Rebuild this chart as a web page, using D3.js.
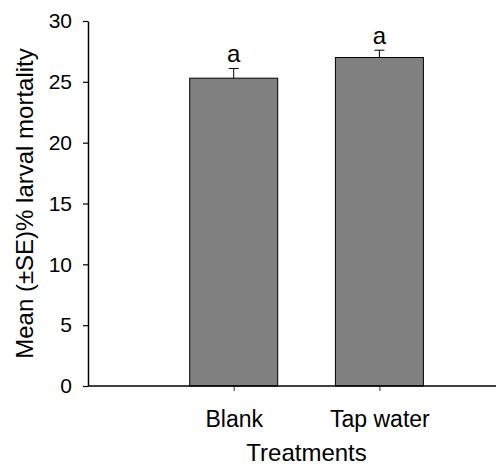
<!DOCTYPE html>
<html>
<head>
<meta charset="utf-8">
<script src="https://cdn.jsdelivr.net/npm/d3@7"></script>
<style>
  body { margin: 0; background: #fff; }
  text { font-family: "Liberation Sans", Arial, sans-serif; fill: #000; }
</style>
</head>
<body>
<div id="chart-area"></div>
<script>
// data
let treatments = ["Blank", "Tap water"];
let meanMortality = [25.3, 27.0];
let seMortality = [0.8, 0.6];
let letters = ["a", "a"];
let yTicks = [0, 5, 10, 15, 20, 25, 30];

let width = 496,
    height = 467;
let margin = {top: 21, bottom: 81, left: 88, right: 0};
let step = 145.7;
let barWidth = 88;

let svg = d3.select('#chart-area').append('svg')
    .attr('width', width)
    .attr('height', height);

let x = d3.scalePoint()
    .domain(treatments)
    .range([margin.left + step, margin.left + 2 * step]);

let y = d3.scaleLinear()
    .domain([0, 30])
    .range([height - margin.bottom, margin.top]);

// bars
svg.selectAll('rect.bar')
    .data(treatments)
    .enter()
    .append('rect')
    .attr('class', 'bar')
    .attr('x', d => x(d) - barWidth / 2)
    .attr('y', (d, i) => y(meanMortality[i]))
    .attr('width', barWidth)
    .attr('height', (d, i) => y(0) - y(meanMortality[i]))
    .attr('fill', '#808080')
    .attr('stroke', '#000')
    .attr('stroke-width', 1);

// error bars (upper only)
let err = svg.selectAll('g.err')
    .data(treatments)
    .enter()
    .append('g')
    .attr('class', 'err')
    .attr('stroke', '#000')
    .attr('stroke-width', 1);

err.append('line')
    .attr('x1', d => x(d))
    .attr('x2', d => x(d))
    .attr('y1', (d, i) => y(meanMortality[i]))
    .attr('y2', (d, i) => y(meanMortality[i] + seMortality[i]));

err.append('line')
    .attr('x1', d => x(d) - 5)
    .attr('x2', d => x(d) + 5)
    .attr('y1', (d, i) => y(meanMortality[i] + seMortality[i]))
    .attr('y2', (d, i) => y(meanMortality[i] + seMortality[i]));

// significance letters
svg.selectAll('text.letter')
    .data(treatments)
    .enter()
    .append('text')
    .attr('class', 'letter')
    .attr('x', d => x(d))
    .attr('y', (d, i) => y(meanMortality[i] + seMortality[i]) - 6.5)
    .attr('text-anchor', 'middle')
    .style('font-size', '24px')
    .text((d, i) => letters[i]);

// y axis
let yAxis = d3.axisLeft(y)
    .tickValues(yTicks)
    .tickSize(5)
    .tickSizeOuter(0)
    .tickPadding(11);

let gy = svg.append('g')
    .attr('transform', 'translate(' + margin.left + ',0)')
    .call(yAxis);
gy.select('.domain').attr('stroke-width', 1.5);
gy.selectAll('.tick line').attr('stroke-width', 1.2);
gy.selectAll('.tick text')
    .style('font-size', '21px')
    .style('font-family', '"Liberation Sans", Arial, sans-serif');

// x axis
let xAxis = d3.axisBottom(x)
    .tickSize(5)
    .tickSizeOuter(0)
    .tickPadding(20);

let gx = svg.append('g')
    .attr('transform', 'translate(0,' + y(0) + ')')
    .call(xAxis);
gx.select('.domain').remove();
gx.append('line')
    .attr('x1', margin.left)
    .attr('x2', width)
    .attr('stroke', '#000')
    .attr('stroke-width', 1.5);
gx.selectAll('.tick line').attr('stroke-width', 1.2).attr('stroke', '#555');
gx.selectAll('.tick text')
    .style('font-size', '23px')
    .style('font-family', '"Liberation Sans", Arial, sans-serif');

// axis titles
svg.append('text')
    .attr('x', (x(treatments[0]) + x(treatments[1])) / 2)
    .attr('y', 461)
    .attr('text-anchor', 'middle')
    .style('font-size', '24px')
    .text('Treatments');

svg.append('text')
    .attr('transform', 'rotate(-90)')
    .attr('x', -(y(0) + y(30)) / 2)
    .attr('y', 33)
    .attr('text-anchor', 'middle')
    .style('font-size', '24px')
    .text('Mean (±SE)% larval mortality');
</script>
</body>
</html>
